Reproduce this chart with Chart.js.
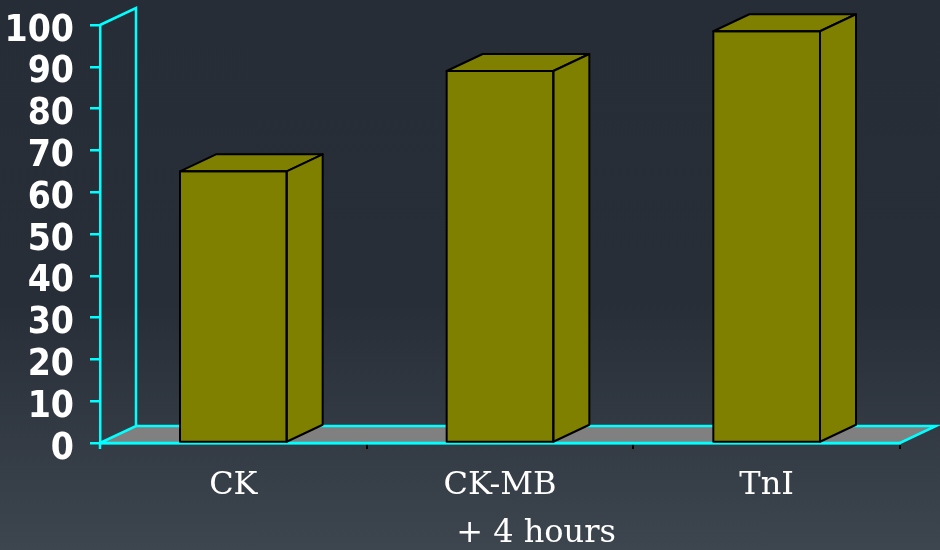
<!DOCTYPE html>
<html lang="en">
<head>
  <meta charset="UTF-8" />
  <title>Markers at + 4 hours</title>
  <style>
    html, body {
      margin: 0;
      padding: 0;
      width: 940px;
      height: 550px;
      overflow: hidden;
      background: linear-gradient(to bottom, #262d36 0%, #272e37 55%, #3d454e 100%);
    }
    #wrap {
      position: relative;
      width: 940px;
      height: 550px;
    }
  </style>
  <script src="https://cdn.jsdelivr.net/npm/chart.js"></script>
</head>
<body>
  <div id="wrap">
    <canvas id="markerChart" width="940" height="550"></canvas>
  </div>

  <script>
    const categories = ['CK', 'CK-MB', 'TnI'];
    const sensitivity = [65, 89, 98.5];
    const yTickValues = [0, 10, 20, 30, 40, 50, 60, 70, 80, 90, 100];
    const footLabel = '+ 4 hours';

    // depth of the fake 3D box (pixels)
    const DX = 36;
    const DY = 17;
    const CYAN = '#00ffff';
    const OLIVE = '#808000';
    const AXIS_W = 2.5;

    const serif = "'DejaVu Serif', 'Liberation Serif', serif";

    // floor + left wall, drawn under the bars
    const boxPlugin = {
      id: 'box3d',
      beforeDatasetsDraw(chart) {
        const { ctx, chartArea: a } = chart;
        ctx.save();
        // grey floor
        ctx.fillStyle = '#808080';
        ctx.beginPath();
        ctx.moveTo(a.left, a.bottom);
        ctx.lineTo(a.left + DX, a.bottom - DY);
        ctx.lineTo(a.right + DX, a.bottom - DY);
        ctx.lineTo(a.right, a.bottom);
        ctx.closePath();
        ctx.fill();

        ctx.strokeStyle = CYAN;
        ctx.lineWidth = AXIS_W;
        ctx.beginPath();
        // floor edges
        ctx.moveTo(a.left, a.bottom);
        ctx.lineTo(a.left + DX, a.bottom - DY);
        ctx.lineTo(a.right + DX, a.bottom - DY);
        ctx.lineTo(a.right, a.bottom);
        ctx.lineTo(a.left, a.bottom);
        // left wall
        ctx.moveTo(a.left + DX, a.bottom - DY);
        ctx.lineTo(a.left + DX, a.top - DY);
        ctx.lineTo(a.left, a.top);
        // axis runs a little below zero
        ctx.moveTo(a.left, a.bottom);
        ctx.lineTo(a.left, a.bottom + 6);
        ctx.stroke();
        ctx.restore();
      },
      afterDatasetsDraw(chart) {
        const { ctx } = chart;
        const meta = chart.getDatasetMeta(0);
        ctx.save();
        ctx.fillStyle = OLIVE;
        ctx.strokeStyle = '#000';
        ctx.lineWidth = 2;
        ctx.lineJoin = 'round';
        meta.data.forEach(bar => {
          const l = bar.x - bar.width / 2;
          const r = bar.x + bar.width / 2;
          const t = bar.y;
          const b = bar.base;
          // top face
          ctx.beginPath();
          ctx.moveTo(l, t);
          ctx.lineTo(l + DX, t - DY);
          ctx.lineTo(r + DX, t - DY);
          ctx.lineTo(r, t);
          ctx.closePath();
          ctx.fill();
          ctx.stroke();
          // side face
          ctx.beginPath();
          ctx.moveTo(r, t);
          ctx.lineTo(r + DX, t - DY);
          ctx.lineTo(r + DX, b - DY);
          ctx.lineTo(r, b);
          ctx.closePath();
          ctx.fill();
          ctx.stroke();
          // front face outline
          ctx.strokeRect(l, t, r - l, b - t);
        });
        ctx.restore();
      },
      afterDraw(chart) {
        const { ctx } = chart;
        ctx.save();
        ctx.fillStyle = '#ffffff';
        ctx.font = '32px ' + serif;
        ctx.textAlign = 'center';
        ctx.textBaseline = 'alphabetic';
        ctx.fillText(footLabel, 536, 542);
        ctx.restore();
      }
    };

    new Chart(document.getElementById('markerChart'), {
      type: 'bar',
      data: {
        labels: categories,
        datasets: [{
          data: sensitivity,
          backgroundColor: OLIVE,
          borderWidth: 0,
          barPercentage: 0.4,
          categoryPercentage: 1
        }]
      },
      options: {
        responsive: false,
        animation: false,
        layout: { padding: { top: 25, right: 40, left: 0, bottom: 0 } },
        plugins: {
          legend: { display: false },
          tooltip: { enabled: false }
        },
        scales: {
          x: {
            afterFit(scale) {
              scale.height = 107;
              scale.paddingLeft = 0;
              scale.paddingRight = 0;
            },
            grid: {
              offset: true,
              drawOnChartArea: false,
              drawTicks: true,
              tickLength: 6,
              color: '#000',
              lineWidth: 2
            },
            border: { color: CYAN, width: AXIS_W },
            ticks: {
              color: '#ffffff',
              padding: 17,
              font: { family: serif, size: 32 }
            }
          },
          y: {
            min: 0,
            max: 100,
            afterFit(scale) {
              scale.width = 100;
              scale.paddingTop = 0;
              scale.paddingBottom = 0;
            },
            afterBuildTicks(scale) {
              scale.ticks = yTickValues.map(v => ({ value: v }));
            },
            grid: {
              drawOnChartArea: false,
              drawTicks: true,
              tickLength: 10,
              color: CYAN,
              lineWidth: AXIS_W
            },
            border: { color: CYAN, width: AXIS_W },
            ticks: {
              color: '#ffffff',
              autoSkip: false,
              padding: 16,
              labelOffset: 6,
              font: {
                family: "'DejaVu Sans', sans-serif",
                size: 37,
                weight: 'bold condensed',
                lineHeight: 1
              }
            }
          }
        }
      },
      plugins: [boxPlugin]
    });
  </script>
</body>
</html>
